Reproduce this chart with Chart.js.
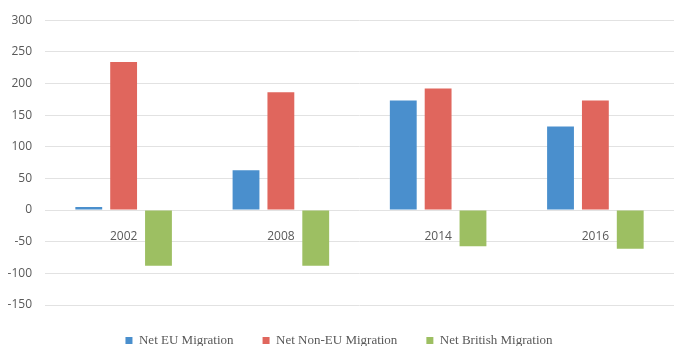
<!DOCTYPE html>
<html>
<head>
<meta charset="utf-8">
<script src="https://cdn.jsdelivr.net/npm/chart.js@4"></script>
<style>
  html, body { margin: 0; padding: 0; background: #fff; }
  #wrap { width: 674px; height: 346px; position: relative; }
</style>
</head>
<body>
<div id="wrap"><canvas id="migrationChart"></canvas></div>
<script>
// Net migration by year (thousands)
const years        = ['2002', '2008', '2014', '2016'];
const netEU        = [5, 63, 173, 132];
const netNonEU     = [234, 186, 192, 173];
const netBritish   = [-88, -88, -57, -61];
const seriesNames  = ['Net EU Migration', 'Net Non-EU Migration', 'Net British Migration'];

const colors = {
  blue:  '#4a8fcd',
  red:   '#e0665d',
  green: '#9dbf62',
  grid:  '#e2e2e2',
  tick:  '#595959',
};
const sans  = "'Open Sans', sans-serif";
const serif = "'Liberation Serif', serif";

const bar = (label, data, color) => ({
  label, data,
  backgroundColor: color,
  borderWidth: 0,
  categoryPercentage: 0.665,
  barPercentage: 0.77,
});

new Chart(document.getElementById('migrationChart'), {
  type: 'bar',
  data: {
    labels: years,
    datasets: [
      bar(seriesNames[0], netEU,      colors.blue),
      bar(seriesNames[1], netNonEU,   colors.red),
      bar(seriesNames[2], netBritish, colors.green),
    ],
  },
  options: {
    responsive: true,
    maintainAspectRatio: false,
    animation: false,
    layout: { padding: { top: 15, left: 0, right: -4, bottom: 0 } },
    plugins: {
      tooltip: { enabled: false },
      legend: {
        position: 'bottom',
        maxHeight: 41,
        labels: {
          boxWidth: 7, boxHeight: 7,
          padding: 29,
          color: colors.tick,
          font: { family: serif, size: 13 },
        },
      },
    },
    scales: {
      x: {
        position: { y: 0 },
        grid: { display: false },
        border: { display: false },
        ticks: { color: colors.tick, font: { family: sans, size: 12 }, padding: 11 },
      },
      y: {
        min: -150, max: 300,
        grid: { color: colors.grid, drawTicks: false },
        border: { display: false },
        ticks: { stepSize: 50, color: colors.tick, font: { family: sans, size: 12 }, padding: 13 },
        afterFit: s => { s.width = 45; },
      },
    },
  },
});
</script>
</body>
</html>
